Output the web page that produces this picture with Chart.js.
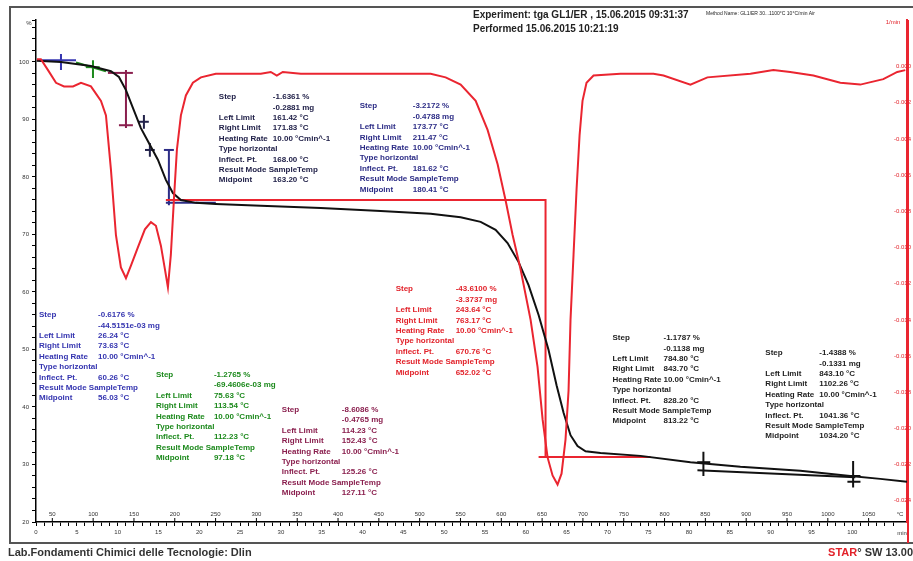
<!DOCTYPE html>
<html>
<head>
<meta charset="utf-8">
<script src="https://cdn.jsdelivr.net/npm/chart.js@4/dist/chart.umd.min.js"></script>
<style>
  html, body { margin: 0; padding: 0; background: #fff; }
  canvas { display: block; }
</style>
</head>
<body>
<canvas id="tga" width="913" height="561"></canvas>
<script>
// TGA curve: sample temperature (°C) vs mass (%)
var tgaTemp = [31, 60.6, 97.3, 121.8, 131.6, 140.2, 148.7, 158.5, 168.3, 179.3, 189.1, 197.7, 207.5, 225.8,
  250.3, 305.4, 378.8, 452.3, 513.5, 550.2, 574.7, 593.0, 607.7, 621.2, 633.4, 645.7, 657.9, 667.7, 676.3,
  684.8, 693.4, 703.2, 721.6, 770.5, 831.7, 892.9, 966.3, 1027.5, 1064.3, 1097];
var tgaMass = [100.2, 100.0, 99.3, 98.4, 97.4, 95.1, 92.0, 88.5, 85.9, 83.0, 79.5, 77.2, 76.0, 75.5,
  75.3, 75.0, 74.6, 74.1, 73.6, 73.0, 72.2, 70.8, 68.5, 65.2, 61.2, 56.0, 49.9, 43.8, 39.0,
  35.1, 33.2, 32.3, 32.0, 31.5, 30.4, 29.6, 28.9, 28.0, 27.5, 27.0];

// DTG curve: temperature (°C) vs rate
var dtgTemp = [31.2, 36, 44.7, 54.5, 64.3, 75.3, 85.1, 97.3, 109.6, 115.7, 121.8, 127.9, 134.0, 140.2, 146.3,
  154.8, 163.4, 170.8, 176.9, 183.0, 187.9, 191.6, 195.2, 198.9, 202.6, 207.5, 213.6, 222.2, 232.0, 250.3,
  305.4, 317.6, 325.0, 332.3, 354.4, 476.8, 513.5, 531.8, 550.2, 568.6, 583.2, 595.5, 605.3, 613.8, 623.6,
  635.9, 644.4, 650.6, 656.7, 662.8, 668.9, 673.8, 678.7, 682.4, 684.8, 688.5, 692.2, 695.9, 699.5, 704.4,
  713.0, 746.0, 786.4, 798.7, 831.7, 852.5, 905.2, 933.3, 953.9, 982.3, 1015.3, 1039.8, 1068.0, 1085.1, 1094.9];
var dtgRate = [0.0004, 0.0004, -0.0002, -0.0009, -0.0011, -0.0011, -0.0009, -0.0011, -0.0019, -0.0027, -0.0057,
  -0.0093, -0.0111, -0.0117, -0.0110, -0.0100, -0.0090, -0.0086, -0.0088, -0.0099, -0.0112, -0.0122, -0.0104,
  -0.0074, -0.0046, -0.0027, -0.0016, -0.0009, -0.0006, -0.0004, -0.0004, -0.0003, -0.0005, -0.0003, -0.0004,
  -0.0004, -0.0004, -0.0006, -0.0010, -0.0019, -0.0035, -0.0054, -0.0074, -0.0093, -0.0112, -0.0140, -0.0166,
  -0.0195, -0.0216, -0.0226, -0.0231, -0.0225, -0.0206, -0.0179, -0.0140, -0.0104, -0.0068, -0.0038, -0.0019,
  -0.0009, -0.0005, -0.0004, -0.0004, -0.0005, -0.0010, -0.0006, -0.0004, -0.0002, -0.0003, -0.0005, -0.0009,
  -0.0010, -0.0007, -0.0003, -0.0002];

// axis tick labels
var massTicks = [100, 90, 80, 70, 60, 50, 40, 30, 20];
var tempLabels = [50, 100, 150, 200, 250, 300, 350, 400, 450, 500, 550, 600, 650, 700, 750, 800, 850, 900, 950, 1000, 1050];
var lastMinuteLabel = 100;

// evaluation marks [temperature, mass] segments
var blueMarks = [[[33.7, 100.3], [79.0, 100.3]], [[60.6, 101.4], [60.6, 98.6]]];
var greenMarks = [[[79.0, 99.9], [115.7, 98.4]], [[99.8, 100.3], [99.8, 97.2]], [[91, 99.1], [108, 99.1]]];
var maroonMarks = [[[118.1, 98.1], [148.7, 98.1]], [[140.2, 98.6], [140.2, 88.5]], [[131.6, 89.0], [148.7, 89.0]]];
var darkMarks = [[[156.2, 89.6], [168.2, 89.6]], [[162.2, 90.8], [162.2, 88.4]], [[163.5, 84.7], [175.5, 84.7]], [[169.5, 85.9], [169.5, 83.5]]];
var navyMarks = [[[192.8, 84.7], [192.8, 75.1]], [[186.7, 84.7], [198.9, 84.7]], [[189.1, 75.5], [250.3, 75.5]]];
var redMarks = [[[189.1, 76.0], [654.2, 76.0], [654.2, 31.3]], [[645.7, 31.3], [782.8, 31.3]]];
var blackMarks = [[[840.3, 29.0], [1033.7, 27.8]], [[847.6, 32.2], [847.6, 28.0]], [[840, 30.4], [856, 30.4]],
  [[1031, 30.6], [1031, 26.0]], [[1024, 28.0], [1040, 28.0]], [[1024, 27.0], [1040, 27.0]]];

// evaluation result texts
var stepLabels = ['Step', '', 'Left Limit', 'Right Limit', 'Heating Rate', 'Type horizontal', 'Inflect. Pt.', 'Result Mode SampleTemp', 'Midpoint'];
var stepBlocks = [
  { color: '#22224a', t: 254.0, p: 93.9, dx: 54, vals: ['-1.6361 %', '-0.2881 mg', '161.42 °C', '171.83 °C', '10.00 °Cmin^-1', '', '168.00 °C', '', '163.20 °C'] },
  { color: '#2c2c86', t: 426.6, p: 92.3, dx: 53, vals: ['-3.2172 %', '-0.4788 mg', '173.77 °C', '211.47 °C', '10.00 °Cmin^-1', '', '181.62 °C', '', '180.41 °C'] },
  { color: '#3535b0', t: 33.7, p: 56.0, dx: 59, vals: ['-0.6176 %', '-44.5151e-03 mg', '26.24 °C', '73.63 °C', '10.00 °Cmin^-1', '', '60.26 °C', '', '56.03 °C'] },
  { color: '#1d8a1d', t: 176.9, p: 45.6, dx: 58, vals: ['-1.2765 %', '-69.4606e-03 mg', '75.63 °C', '113.54 °C', '10.00 °Cmin^-1', '', '112.23 °C', '', '97.18 °C'] },
  { color: '#8a1f4e', t: 331.1, p: 39.5, dx: 60, vals: ['-8.6086 %', '-0.4765 mg', '114.23 °C', '152.43 °C', '10.00 °Cmin^-1', '', '125.26 °C', '', '127.11 °C'] },
  { color: '#e2222a', t: 470.6, p: 60.5, dx: 60, vals: ['-43.6100 %', '-3.3737 mg', '243.64 °C', '763.17 °C', '10.00 °Cmin^-1', '', '670.76 °C', '', '652.02 °C'] },
  { color: '#1e1e1e', t: 736.2, p: 52.0, dx: 51, vals: ['-1.1787 %', '-0.1138 mg', '784.80 °C', '843.70 °C', '10.00 °Cmin^-1', '', '828.20 °C', '', '813.22 °C'] },
  { color: '#1e1e1e', t: 923.5, p: 49.4, dx: 54, vals: ['-1.4388 %', '-0.1331 mg', '843.10 °C', '1102.26 °C', '10.00 °Cmin^-1', '', '1041.36 °C', '', '1034.20 °C'] }
];

var FONT = '"Liberation Sans", Arial, sans-serif';

function xy(xs, ys) {
  return xs.map(function (v, i) { return { x: v, y: ys[i] }; });
}

function markSets(segs, color, axis) {
  return segs.map(function (s) {
    return {
      data: s.map(function (p) { return { x: p[0], y: p[1] }; }),
      borderColor: color, borderWidth: 2, pointRadius: 0, yAxisID: axis || 'y', tension: 0
    };
  });
}

var datasets = [
  { label: 'DTG', data: xy(dtgTemp, dtgRate), borderColor: '#ea2530', borderWidth: 2, pointRadius: 0, yAxisID: 'y2', tension: 0 },
  { label: 'TGA', data: xy(tgaTemp, tgaMass), borderColor: '#111', borderWidth: 2, pointRadius: 0, yAxisID: 'y', tension: 0 }
].concat(
  markSets(redMarks, '#ea2530'),
  markSets(blueMarks, '#3535b0'),
  markSets(greenMarks, '#1d8a1d'),
  markSets(maroonMarks, '#8a1f4e'),
  markSets(darkMarks, '#22224a'),
  markSets(navyMarks, '#2c2c86'),
  markSets(blackMarks, '#111')
);

var decor = {
  id: 'decor',
  beforeDraw: function (chart) {
    var ctx = chart.ctx;
    ctx.save();
    ctx.fillStyle = '#fff';
    ctx.fillRect(0, 0, chart.width, chart.height);
    ctx.restore();
  },
  afterDraw: function (chart) {
    var ctx = chart.ctx, xs = chart.scales.x, ys = chart.scales.y;
    ctx.save();
    // temperature labels above the x axis
    ctx.font = '6px ' + FONT;
    ctx.fillStyle = '#333';
    ctx.strokeStyle = '#000';
    ctx.lineWidth = 1;
    ctx.textAlign = 'center';
    ctx.textBaseline = 'middle';
    tempLabels.forEach(function (t) {
      var px = xs.getPixelForValue(t);
      ctx.fillText(String(t), px, ys.bottom - 8);
      ctx.beginPath();
      ctx.moveTo(px, ys.bottom);
      ctx.lineTo(px, ys.bottom - 4);
      ctx.stroke();
    });
    ctx.fillText('°C', 900, ys.bottom - 8);
    ctx.fillText('min', 902, ys.bottom + 11);
    ctx.fillText('%', 29, 23);
    ctx.fillStyle = '#e2222a';
    ctx.fillText('1/min', 893, 22);

    // evaluation texts
    ctx.font = 'bold 8px ' + FONT;
    ctx.textAlign = 'left';
    stepBlocks.forEach(function (b) {
      var x0 = xs.getPixelForValue(b.t), y0 = ys.getPixelForValue(b.p);
      ctx.fillStyle = b.color;
      stepLabels.forEach(function (lab, i) {
        var yy = y0 + i * 10.4;
        if (lab) ctx.fillText(lab, x0, yy);
        if (b.vals[i]) ctx.fillText(b.vals[i], x0 + b.dx, yy);
      });
    });

    // header
    ctx.fillStyle = '#222';
    ctx.font = 'bold 10px ' + FONT;
    ctx.fillText('Experiment: tga GL1/ER , 15.06.2015 09:31:37', 473, 15);
    ctx.fillText('Performed 15.06.2015 10:21:19', 473, 29);
    ctx.font = '5px ' + FONT;
    ctx.fillText('Method Name: GL1/ER 30...1100°C 10°C/min Air', 706, 14);

    // footer
    ctx.font = 'bold 11px ' + FONT;
    ctx.fillStyle = '#333';
    ctx.fillText('Lab.Fondamenti Chimici delle Tecnologie: Dlin', 8, 553);
    ctx.textAlign = 'right';
    ctx.fillText('\u00b0 SW 13.00', 913, 553);
    var w = ctx.measureText('\u00b0 SW 13.00').width;
    ctx.fillStyle = '#e2222a';
    ctx.fillText('STAR', 913 - w, 553);

    // frame
    ctx.strokeStyle = '#555';
    ctx.lineWidth = 2;
    ctx.beginPath();
    ctx.moveTo(913, 7);
    ctx.lineTo(10, 7);
    ctx.lineTo(10, 543);
    ctx.lineTo(913, 543);
    ctx.stroke();
    // right axis line down to the frame
    ctx.strokeStyle = '#ea2530';
    ctx.beginPath();
    ctx.moveTo(chart.scales.y2.left + 1, 20);
    ctx.lineTo(chart.scales.y2.left + 1, 543);
    ctx.stroke();
    ctx.restore();
  }
};

new Chart('tga', {
  type: 'line',
  data: { datasets: datasets },
  plugins: [decor],
  options: {
    responsive: false,
    devicePixelRatio: 1,
    animation: false,
    layout: { padding: { top: 20, left: 0, right: 0, bottom: 0 } },
    plugins: { legend: { display: false }, tooltip: { enabled: false } },
    scales: {
      x: {
        type: 'linear', position: 'bottom', min: 30, max: 1097,
        afterFit: function (s) { s.height = 39; },
        ticks: {
          stepSize: 10, autoSkip: false, maxRotation: 0, padding: 3,
          font: { size: 6, family: FONT }, color: '#333',
          callback: function (v) {
            var m = (v - 30) / 10;
            return (v - 30) % 50 === 0 && m <= lastMinuteLabel ? String(m) : '';
          }
        },
        grid: { drawOnChartArea: false, drawTicks: true, tickLength: 4, color: '#000' },
        border: { color: '#000', width: 1.5 }
      },
      y: {
        position: 'left', min: 20, max: 107.3,
        afterFit: function (s) { s.width = 36; },
        ticks: {
          stepSize: 2, autoSkip: false, padding: 3,
          font: { size: 6, family: FONT }, color: '#333',
          callback: function (v) { return massTicks.indexOf(v) >= 0 ? String(v) : ''; }
        },
        grid: { drawOnChartArea: false, drawTicks: true, tickLength: 4, color: '#000' },
        border: { color: '#000', width: 1.5 }
      },
      y2: {
        position: 'right', min: -0.02517, max: 0.00257,
        afterFit: function (s) { s.width = 6; },
        ticks: {
          stepSize: 0.002, autoSkip: false, mirror: true, padding: 4,
          font: { size: 6, family: FONT }, color: '#e2222a',
          callback: function (v) {
            var k = Math.round(v / 0.002);
            if (k > 0 || Math.abs(v - k * 0.002) > 1e-7) return '';
            return (k * 0.002).toFixed(3).replace('-0.000', '0.000');
          }
        },
        grid: { drawOnChartArea: false, drawTicks: false },
        border: { color: '#ea2530', width: 2 }
      }
    }
  }
});
</script>
</body>
</html>
